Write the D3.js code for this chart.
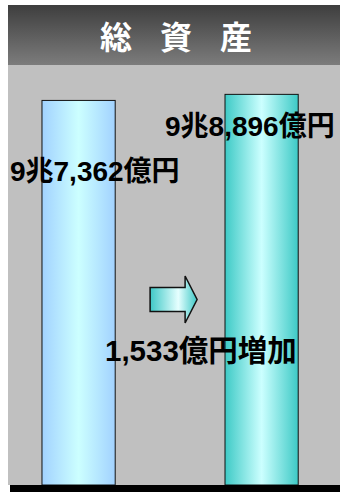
<!DOCTYPE html>
<html>
<head>
<meta charset="utf-8">
<script src="https://cdn.jsdelivr.net/npm/d3@7"></script>
<style>
  html, body { margin: 0; padding: 0; background: #ffffff; }
  svg { display: block; }
</style>
</head>
<body>
<script>
// Total assets, in 億円 (hundred-million yen)
const categories = ["前期末", "当期末"];
const totalAssets = [97362, 98896];
const increase = [1533];
const titleChars = ["総", "資", "産"];

const W = 340, H = 492;
const svg = d3.select("body").append("svg").attr("width", W).attr("height", H);
const defs = svg.append("defs");

function hGrad(id, stops) {
  const g = defs.append("linearGradient").attr("id", id)
    .attr("x1", "0%").attr("x2", "100%").attr("y1", "0%").attr("y2", "0%");
  stops.forEach(([o, c]) => g.append("stop").attr("offset", o).attr("stop-color", c));
}
const tg = defs.append("linearGradient").attr("id", "titleGrad")
  .attr("x1", "0%").attr("x2", "0%").attr("y1", "0%").attr("y2", "100%");
tg.append("stop").attr("offset", 0).attr("stop-color", "#3e3e3e");
tg.append("stop").attr("offset", 1).attr("stop-color", "#7c7c7c");

hGrad("barBlue", [[0, "#a2d2ff"], [0.5, "#ccffff"], [1, "#a2d2ff"]]);
hGrad("barTeal", [[0, "#3ecac6"], [0.5, "#ccffff"], [1, "#3ecac6"]]);
hGrad("arrowGrad", [[0, "#3ec8c6"], [0.6, "#e6ffff"], [1, "#3ec8c6"]]);

// panel background and title band
svg.append("rect").attr("x", 8).attr("y", 5).attr("width", W - 8).attr("height", 480)
  .attr("fill", "#c0c0c0");
svg.append("rect").attr("x", 8).attr("y", 5).attr("width", W - 8).attr("height", 60)
  .attr("fill", "url(#titleGrad)");

const title = svg.append("text")
  .attr("y", 49)
  .attr("fill", "#ffffff")
  .attr("font-family", "'Noto Sans CJK JP', sans-serif")
  .attr("font-weight", "bold")
  .attr("font-size", 32)
  .attr("text-anchor", "middle");
title.selectAll("tspan").data(titleChars).join("tspan")
  .attr("x", (d, i) => 116 + i * 60)
  .text(d => d);

// scales
const x = d3.scaleBand().domain(categories).range([8, 340])
  .paddingInner(0.6).paddingOuter(0.207).align(0.4485);
const y = d3.scaleLinear().domain([0, 100000]).range([485, 90]);

const fills = ["url(#barBlue)", "url(#barTeal)"];
svg.selectAll("rect.bar").data(totalAssets).join("rect")
  .attr("class", "bar")
  .attr("x", (d, i) => x(categories[i]))
  .attr("y", d => y(d))
  .attr("width", x.bandwidth())
  .attr("height", d => y(0) - y(d))
  .attr("fill", (d, i) => fills[i])
  .attr("stroke", "#111")
  .attr("stroke-width", 1);

// baseline
svg.append("rect").attr("x", 10).attr("y", y(0)).attr("width", W - 10).attr("height", H - y(0))
  .attr("fill", "#000");

// value labels, offset from each bar's left edge and top
const fmt = d3.format(",");
const choLabel = v => `${Math.floor(v / 10000)}兆${fmt(v % 10000)}億円`;
const labelOffsets = [[-32, 81], [-60, 42]];
svg.selectAll("text.val").data(totalAssets).join("text")
  .attr("class", "val")
  .attr("x", (d, i) => x(categories[i]) + labelOffsets[i][0])
  .attr("y", (d, i) => y(d) + labelOffsets[i][1])
  .attr("font-family", "'Liberation Sans', 'Noto Sans CJK JP', sans-serif")
  .attr("font-weight", "bold")
  .attr("font-size", 28)
  .attr("fill", "#000")
  .text(d => choLabel(d));

// arrow between the bars
const gapMid = (x(categories[0]) + x.bandwidth() + x(categories[1])) / 2;
const ax = gapMid - 20, ay = 299.5;
const arrow = d3.path();
arrow.moveTo(ax, ay - 12);
arrow.lineTo(ax + 35, ay - 12);
arrow.lineTo(ax + 35, ay - 23.5);
arrow.lineTo(ax + 47, ay);
arrow.lineTo(ax + 35, ay + 23.5);
arrow.lineTo(ax + 35, ay + 12);
arrow.lineTo(ax, ay + 12);
arrow.closePath();
svg.append("path").attr("d", arrow.toString())
  .attr("fill", "url(#arrowGrad)")
  .attr("stroke", "#111").attr("stroke-width", 1.5).attr("stroke-linejoin", "miter");

svg.append("text").data(increase)
  .attr("x", 105)
  .attr("y", 361)
  .attr("font-family", "'Liberation Sans', 'Noto Sans CJK JP', sans-serif")
  .attr("font-weight", "bold")
  .attr("font-size", 29.5)
  .attr("fill", "#000")
  .text(d => `${fmt(d)}億円増加`);
</script>
</body>
</html>
